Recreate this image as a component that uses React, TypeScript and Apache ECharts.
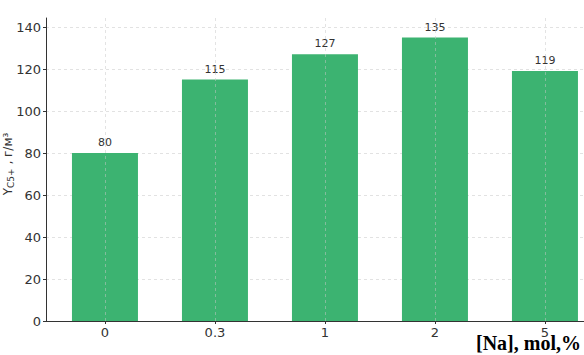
import React, { useEffect, useRef } from "react";
import * as echarts from "echarts";

const categories = ["0", "0.3", "1", "2", "5"];
const values = [80, 115, 127, 135, 119];
const yTicks = [0, 20, 40, 60, 80, 100, 120, 140];

export default function App() {
  const ref = useRef<HTMLDivElement>(null);
  useEffect(() => {
    if (!ref.current) return;
    const chart = echarts.init(ref.current, undefined, { renderer: "svg" });
    const idx = categories.map((_, i) => i);
    chart.setOption({
      animation: false,
      grid: { left: 46, right: 0, top: 18, bottom: 34, containLabel: false, outerBoundsMode: "none" },
      xAxis: {
        type: "value",
        min: -0.536,
        max: 4.355,
        z: 5,
        axisLine: { show: true, onZero: false, lineStyle: { color: "#333", width: 1 } },
        axisTick: { show: true, customValues: idx, length: 3, lineStyle: { color: "#333" } },
        axisLabel: {
          customValues: idx,
          formatter: (v: number) => categories[Math.round(v)] ?? "",
          color: "#333",
          fontFamily: "DejaVu Sans",
          fontSize: 13,
          margin: 5,
        },
        splitLine: { show: true, lineStyle: { color: "rgba(200,200,200,0.5)", type: [3, 3], width: 1 } },
      },
      yAxis: {
        type: "value",
        min: 0,
        max: 144.3,
        interval: 20,
        axisLine: { show: true, onZero: false, lineStyle: { color: "#333", width: 1 } },
        axisTick: { show: true, length: 3, lineStyle: { color: "#333" }, customValues: yTicks },
        axisLabel: {
          customValues: yTicks,
          color: "#333",
          fontFamily: "DejaVu Sans",
          fontSize: 13,
          margin: 5,
        },
        splitLine: { show: true, lineStyle: { color: "#e2e2e2", type: [3, 3], width: 1 } },
      },
      series: [
        {
          type: "bar",
          data: values.map((v, i) => [i, v]),
          barWidth: 66,
          itemStyle: { color: "#3cb371" },
          label: {
            show: true,
            position: "top",
            distance: 5,
            color: "#333",
            fontFamily: "DejaVu Sans",
            fontSize: 11,
          },
        },
      ],
      graphic: [
        {
          type: "text",
          x: 8,
          y: 164,
          rotation: Math.PI / 2,
          style: {
            text: "{y|Y}{s|C5+}{y| , г/м³}",
            align: "center",
            verticalAlign: "middle",
            rich: {
              y: { fontFamily: "DejaVu Sans", fontSize: 12, fill: "#333", color: "#333" },
              s: { fontFamily: "DejaVu Sans", fontSize: 9, fill: "#333", color: "#333", verticalAlign: "bottom", padding: [6, 0, 0, 0] },
            },
          },
        },
        {
          type: "text",
          right: 3,
          bottom: 2,
          style: {
            text: "[Na], mol,%",
            font: "bold 20px 'Liberation Serif'",
            fill: "#000",
          },
        },
      ],
    });
    return () => chart.dispose();
  }, []);
  return <div ref={ref} style={{ width: 584, height: 355, position: "absolute", left: 0, top: 0 }} />;
}
